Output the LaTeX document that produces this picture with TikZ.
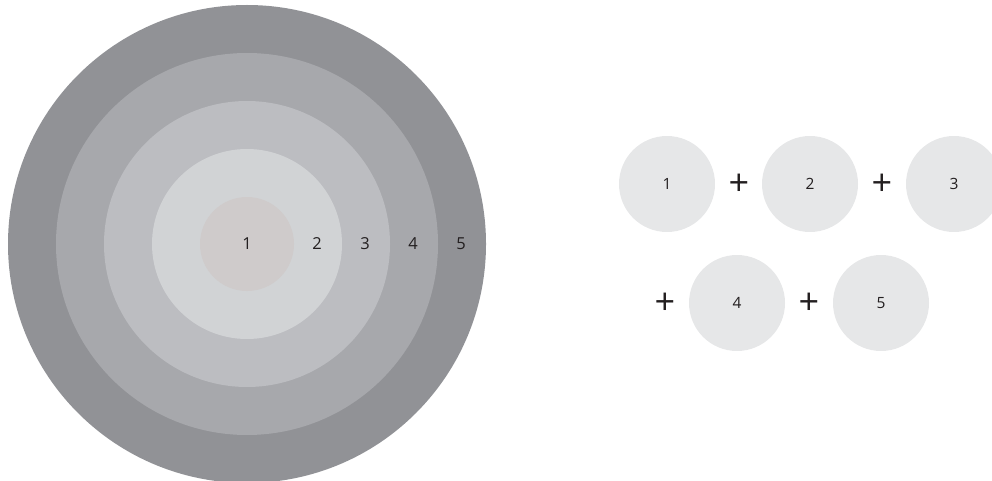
\documentclass[tikz,border=0pt]{standalone}
\usepackage{fontspec}
\setmainfont{Open Sans}
\usepackage{tikz}
\usetikzlibrary{positioning}
\definecolor{RingFive}{HTML}{919296}
\definecolor{RingFour}{HTML}{A7A8AC}
\definecolor{RingThree}{HTML}{BCBDC1}
\definecolor{RingTwo}{HTML}{D1D3D5}
\definecolor{RingOne}{HTML}{CFCBCB}
\definecolor{BallGrey}{HTML}{E6E7E8}
\definecolor{InkDark}{HTML}{231F20}

\begin{document}
\begin{tikzpicture}[
  x=1pt,y=-1pt,
  num/.style={text=InkDark,font=\fontsize{16.5}{16.5}\selectfont,inner sep=0pt},
  ball/.style={circle,fill=BallGrey,minimum size=96pt,inner sep=0pt,
               text=InkDark,font=\fontsize{15.5}{15.5}\selectfont},
  plus/.style={text=InkDark,font=\fontsize{36}{36}\selectfont,inner sep=0pt}
]
\useasboundingbox (0,0) rectangle (992,481);
\begin{scope}
\clip (0,0) rectangle (992,481);

% target
\fill[RingFive]  (247,244) circle[radius=239];
\fill[RingFour]  (247,244) circle[radius=191];
\fill[RingThree] (247,244) circle[radius=143];
\fill[RingTwo]   (247,244) circle[radius=95];
\fill[RingOne]   (247,244) circle[radius=47];

\node[num] (t1) at (247,244) {1};
\node[num] (t2) at (317,244) {2};
\node[num] (t3) at (365,244) {3};
\node[num] (t4) at (413,244) {4};
\node[num] (t5) at (461,244) {5};

% sum
\node[ball] (b1) at (667,184) {1};
\node[ball] (b2) at (810,184) {2};
\node[ball] (b3) at (954,184) {3};
\node[ball] (b4) at (737,303) {4};
\node[ball] (b5) at (881,303) {5};

\node[plus] (p1) at (739,185) {+};
\node[plus] (p2) at (882,185) {+};
\node[plus] (p3) at (665,304) {+};
\node[plus] (p4) at (809,304) {+};
\end{scope}
\end{tikzpicture}
\end{document}
